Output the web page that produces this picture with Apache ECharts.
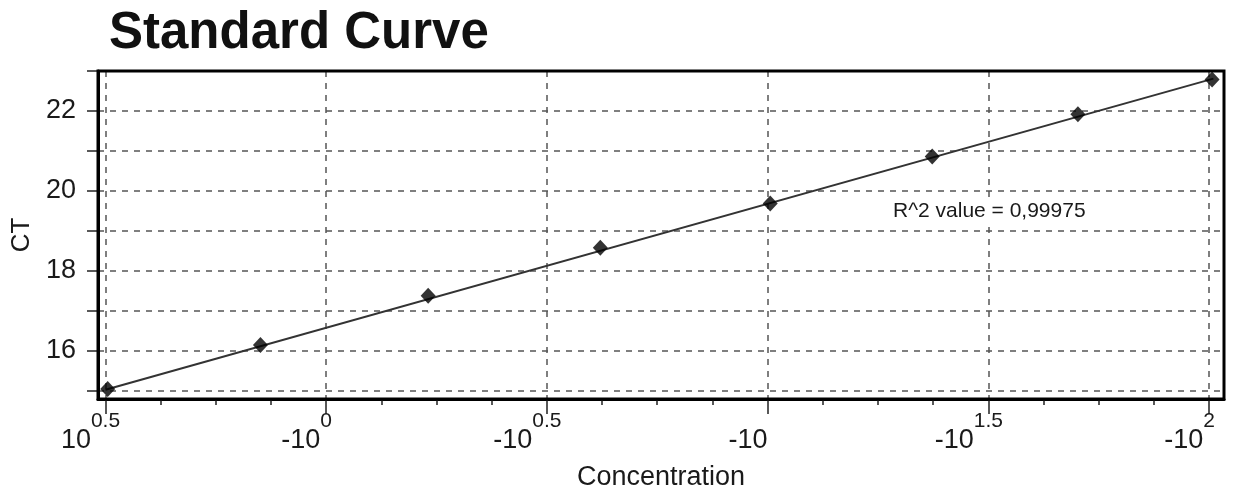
<!DOCTYPE html>
<html>
<head>
<meta charset="utf-8">
<title>Standard Curve</title>
<script src="https://cdn.jsdelivr.net/npm/echarts@6/dist/echarts.min.js"></script>
<style>
  html, body { margin: 0; padding: 0; background: #fff; }
  #chart { width: 1237px; height: 498px; }
</style>
</head>
<body>
<div id="chart"></div>
<script>
// Standard samples: log10 concentration position vs. CT
const concLog = [-0.495, -0.149, 0.231, 0.621, 1.006, 1.373, 1.703, 2.007];
const ctValues = [15.05, 16.15, 17.38, 18.58, 19.69, 20.86, 21.92, 22.79];

// Fitted standard line (two end points)
const fitX = [-0.5, 2.01];
const fitY = [15.03, 22.81];

// Axis ticks and labels
const xTickValues = [-0.5, 0, 0.5, 1, 1.5, 2];
const xTickBase = ['10', '-10', '-10', '-10', '-10', '-10'];
const xTickExp = ['0.5', '0', '0.5', '', '1.5', '2'];
const yTickValues = [15, 16, 17, 18, 19, 20, 21, 22, 23];
const yLabelValues = [16, 18, 20, 22];

const r2Text = 'R^2 value = 0,99975';

const FONT = 'Liberation Sans, Arial, Helvetica, sans-serif';
const TXT = '#1a1a1a';

// three minor ticks between each pair of labelled ticks
const xMinorTicks = [];
for (let i = 0; i < xTickValues.length - 1; i++) {
  const a = xTickValues[i], b = xTickValues[i + 1];
  for (let k = 1; k < 4; k++) xMinorTicks.push(a + (b - a) * k / 4);
}

const scatterData = concLog.map((x, i) => [x, ctValues[i]]);
const fitData = fitX.map((x, i) => [x, fitY[i]]);

function xLabel(val) {
  const i = xTickValues.findIndex(v => Math.abs(v - val) < 1e-6);
  if (i < 0) return '';
  const base = xTickBase[i];
  const exp = xTickExp[i];
  const short = base.length === 2;
  const b = short ? 'bA' : 'bB';
  const p = short ? 'pA' : 'pB';
  return '{' + b + '|' + base + '}' + (exp ? '{s|' + exp + '}' : '') + '{' + p + '| }';
}

const baseStyle = { fontSize: 27, lineHeight: 28, color: TXT, fontFamily: FONT, verticalAlign: 'bottom' };

const chart = echarts.init(document.getElementById('chart'), null, { renderer: 'canvas' });
chart.setOption({
  backgroundColor: '#fff',
  animation: false,
  title: {
    text: 'Standard Curve',
    left: 104,
    top: 3,
    textStyle: { fontSize: 51, fontWeight: 'bold', color: '#111', fontFamily: FONT }
  },
  grid: {
    left: 98, right: 13, top: 71, bottom: 99,
    show: true, borderColor: '#000', borderWidth: 3, z: 5,
    containLabel: false,
    outerBoundsMode: 'none'
  },
  xAxis: [{
    type: 'value',
    min: -0.517, max: 2.034,
    position: 'bottom',
    name: 'Concentration',
    nameLocation: 'middle',
    nameGap: 65,
    nameTextStyle: { fontSize: 27, color: TXT, fontFamily: FONT },
    axisLine: { show: true, onZero: false, lineStyle: { color: '#000', width: 3 } },
    axisTick: { show: true, customValues: xTickValues, length: 15, lineStyle: { color: '#222', width: 1.5 } },
    axisLabel: {
      show: true,
      customValues: xTickValues,
      margin: 27,
      align: 'center',
      verticalAlign: 'top',
      formatter: xLabel,
      rich: {
        bA: Object.assign({}, baseStyle, { width: 30 }),
        bB: Object.assign({}, baseStyle, { width: 39 }),
        s: { fontSize: 21, lineHeight: 21, padding: [0, 0, 22, 0], color: TXT, fontFamily: FONT, verticalAlign: 'bottom' },
        pA: Object.assign({}, baseStyle, { width: 30 }),
        pB: Object.assign({}, baseStyle, { width: 39 })
      }
    },
    splitLine: { show: true, lineStyle: { color: '#555', width: 1.5, type: [6, 6] } }
  }, {
    type: 'value',
    min: -0.517, max: 2.034,
    position: 'bottom',
    axisLine: { show: false, onZero: false },
    axisTick: { show: true, customValues: xMinorTicks, length: 6, lineStyle: { color: '#222', width: 1.5 } },
    axisLabel: { show: false },
    splitLine: { show: false }
  }],
  yAxis: {
    type: 'value',
    min: 14.8, max: 23,
    name: 'CT',
    nameLocation: 'middle',
    nameRotate: 90,
    nameGap: 55,
    nameTextStyle: { fontSize: 26, color: TXT, fontFamily: FONT },
    axisLine: { show: true, onZero: false, lineStyle: { color: '#000', width: 3 } },
    axisTick: { show: true, customValues: yTickValues, length: 11, lineStyle: { color: '#222', width: 1.5 } },
    axisLabel: {
      show: true, customValues: yLabelValues, margin: 22,
      fontSize: 27, color: TXT, fontFamily: FONT
    },
    splitLine: { show: true, lineStyle: { color: '#555', width: 1.5, type: [6, 6] } }
  },
  series: [{
    name: 'fit',
    type: 'line',
    data: fitData,
    symbol: 'none',
    lineStyle: { color: '#333', width: 2 },
    z: 3
  }, {
    name: 'standards',
    type: 'scatter',
    data: scatterData,
    symbol: 'diamond',
    symbolSize: [15, 16],
    itemStyle: { color: '#000' },
    z: 4
  }],
  graphic: [{
    type: 'text',
    left: 891,
    top: 200,
    z: 10,
    style: {
      text: r2Text,
      font: '21px ' + FONT,
      fill: TXT,
      backgroundColor: '#fff',
      padding: [1, 2]
    }
  }]
});
</script>
</body>
</html>
